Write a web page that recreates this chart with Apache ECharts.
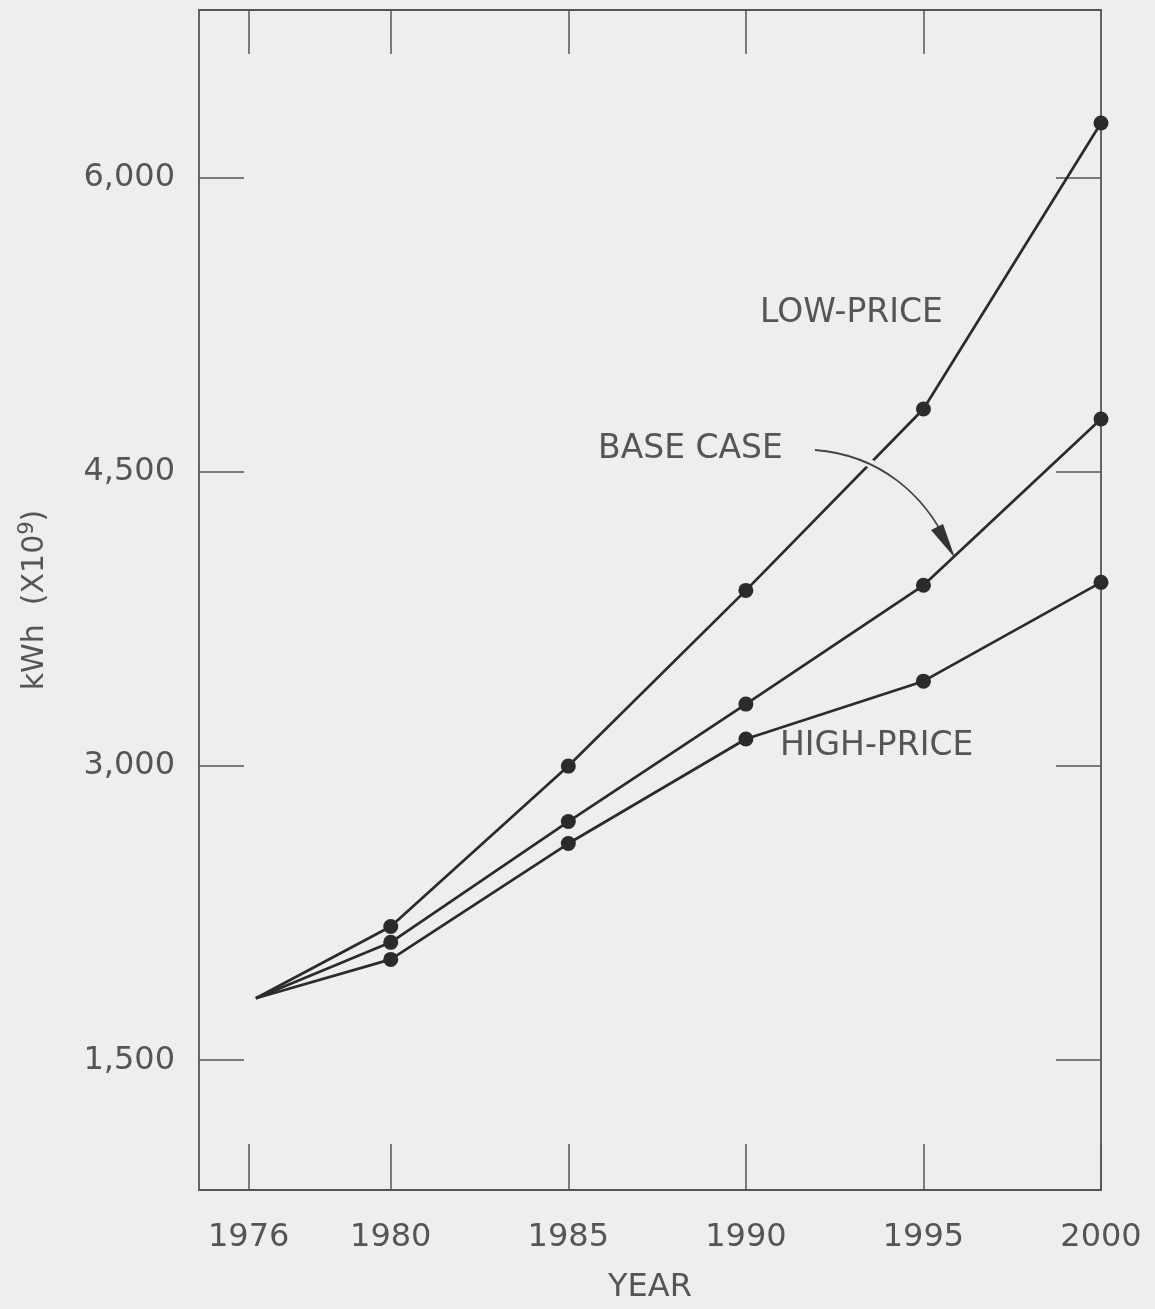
<!DOCTYPE html>
<html>
<head>
<meta charset="utf-8">
<script src="https://cdn.jsdelivr.net/npm/echarts@6/dist/echarts.min.js"></script>
<style>
  html, body { margin: 0; padding: 0; background: #eeeeee; }
  #chart { width: 1155px; height: 1309px; }
</style>
</head>
<body>
<div id="chart"></div>
<script>
// ---- data ----
const years = [1976.2, 1980, 1985, 1990, 1995, 2000];
const lowPrice  = [1816, 2182, 3000, 3896, 4821, 6280];
const baseCase  = [1816, 2101, 2717, 3316, 3922, 4770];
const highPrice = [1816, 2014, 2605, 3138, 3433, 3937];
const xTicks = [1976, 1980, 1985, 1990, 1995, 2000];
const xTopTicks = [1976, 1980, 1985, 1990, 1995];
const yTicks = [1500, 3000, 4500, 6000];
const seriesNames = ['LOW-PRICE', 'BASE CASE', 'HIGH-PRICE'];

const ink = '#2b2b2b';
const axisInk = '#555555';
const textInk = '#555555';
const bg = '#eeeeee';

function pts(vals) {
  return years.map((y, i) => {
    const p = { value: [y, vals[i]] };
    if (i === 0) p.symbol = 'none';
    return p;
  });
}

function mkSeries(name, vals) {
  return {
    name: name,
    type: 'line',
    data: pts(vals),
    symbol: 'circle',
    symbolSize: 15,
    showAllSymbol: true,
    lineStyle: { color: ink, width: 2.7 },
    itemStyle: { color: ink },
    emphasis: { disabled: true },
    animation: false,
    z: 3
  };
}

const chart = echarts.init(document.getElementById('chart'), null, { renderer: 'canvas' });

const tickFont = { fontFamily: 'DejaVu Sans', color: textInk };

chart.setOption({
  backgroundColor: bg,
  animation: false,
  grid: { left: 199, right: 54, top: 10, bottom: 114 },
  xAxis: [
    {
      type: 'value', position: 'bottom', min: 1974.6, max: 2000,
      name: 'YEAR', nameLocation: 'middle', nameGap: 82,
      nameTextStyle: Object.assign({ fontSize: 32 }, tickFont),
      axisLine: { show: true, lineStyle: { color: axisInk, width: 1.8 } },
      axisTick: { show: true, inside: true, length: 46, customValues: xTicks, lineStyle: { color: axisInk, width: 1.5 } },
      axisLabel: Object.assign({ customValues: xTicks, margin: 32, fontSize: 32, formatter: v => String(Math.round(v)) }, tickFont),
      splitLine: { show: false }
    },
    {
      type: 'value', position: 'top', min: 1974.6, max: 2000,
      axisLine: { show: true, lineStyle: { color: axisInk, width: 1.8 } },
      axisTick: { show: true, inside: true, length: 44, customValues: xTopTicks, lineStyle: { color: axisInk, width: 1.5 } },
      axisLabel: { show: false },
      splitLine: { show: false }
    }
  ],
  yAxis: [
    {
      type: 'value', position: 'left', min: 838, max: 6856,
      name: '{a|kWh  (X10}{s|9}{a|)}', nameLocation: 'middle', nameGap: 145, nameRotate: 90,
      nameTextStyle: {
        rich: {
          a: { fontSize: 30, fontFamily: 'DejaVu Sans', color: textInk },
          s: { fontSize: 21, fontFamily: 'DejaVu Sans', color: textInk, verticalAlign: 'top', padding: [0, 0, 16, 0] }
        }
      },
      axisLine: { show: true, lineStyle: { color: axisInk, width: 1.8 } },
      axisTick: { show: true, inside: true, length: 45, customValues: yTicks, lineStyle: { color: axisInk, width: 1.5 } },
      axisLabel: Object.assign({ customValues: yTicks, margin: 24, fontSize: 32, formatter: v => Number(v).toLocaleString('en-US') }, tickFont),
      splitLine: { show: false }
    },
    {
      type: 'value', position: 'right', min: 838, max: 6856,
      axisLine: { show: true, lineStyle: { color: axisInk, width: 1.8 } },
      axisTick: { show: true, inside: true, length: 45, customValues: yTicks, lineStyle: { color: axisInk, width: 1.5 } },
      axisLabel: { show: false },
      splitLine: { show: false }
    }
  ],
  series: [
    mkSeries(seriesNames[0], lowPrice),
    mkSeries(seriesNames[1], baseCase),
    mkSeries(seriesNames[2], highPrice)
  ],
  graphic: [
    { type: 'text', left: 760, top: 297, z: 10, style: { text: seriesNames[0], fontSize: 33, fontFamily: 'DejaVu Sans', fill: textInk } },
    { type: 'text', left: 598, top: 433, z: 10, style: { text: seriesNames[1], fontSize: 33, fontFamily: 'DejaVu Sans', fill: textInk } },
    { type: 'text', left: 780, top: 730, z: 10, style: { text: seriesNames[2], fontSize: 33, fontFamily: 'DejaVu Sans', fill: textInk } },
    // gap in the low-price line under the arrow
    { type: 'bezierCurve', z: 10, shape: { x1: 855, y1: 455, cpx1: 870, cpy1: 462, cpx2: 880, cpy2: 470, x2: 888, y2: 478 },
      style: { stroke: bg, lineWidth: 9, fill: null } },
    // curved arrow
    { type: 'bezierCurve', z: 11, shape: { x1: 815, y1: 450, cpx1: 880, cpy1: 455, cpx2: 925, cpy2: 495, x2: 948, y2: 545 },
      style: { stroke: '#444', lineWidth: 1.8, fill: null } },
    { type: 'polygon', z: 11, shape: { points: [[955, 558], [931, 530], [943, 524]] },
      style: { fill: '#333' } }
  ]
});
</script>
</body>
</html>
